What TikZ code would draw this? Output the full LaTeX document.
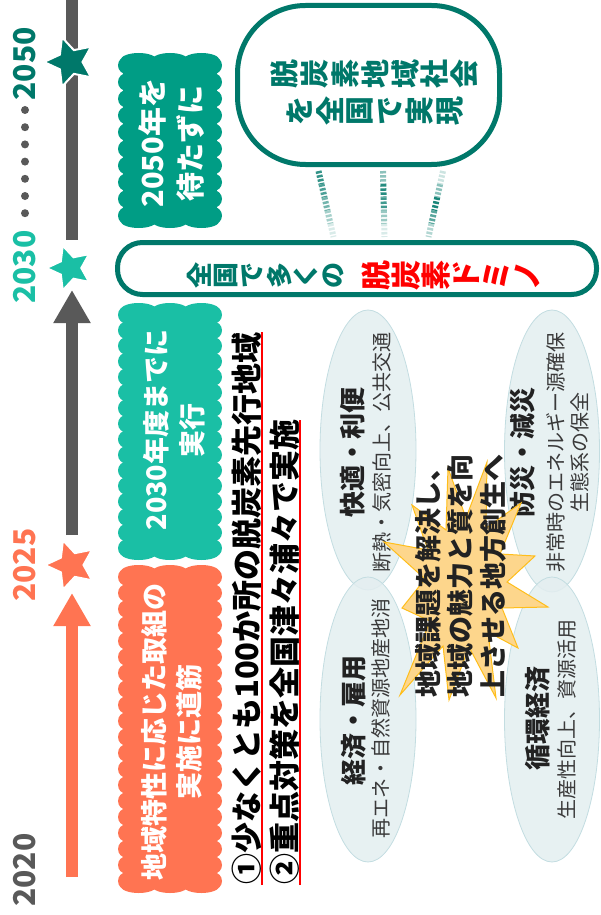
\documentclass[tikz,border=0pt]{standalone}
\usepackage{fontspec}
\setmainfont{Noto Sans CJK JP}
\usetikzlibrary{shapes.geometric, arrows.meta, calc}
\definecolor{dteal}{HTML}{00786A}
\definecolor{bteal}{HTML}{009D85}
\definecolor{lteal}{HTML}{1ABFA5}
\definecolor{orng}{HTML}{FF7452}
\definecolor{barg}{HTML}{595959}
\definecolor{ellf}{HTML}{E3EEF0}
\definecolor{elld}{HTML}{C3DDE1}
\definecolor{burstf}{HTML}{FDD68C}
\definecolor{burstd}{HTML}{FFBE1A}
\definecolor{txtd}{HTML}{222222}
\definecolor{txtg}{HTML}{3A3A3A}
\definecolor{redx}{HTML}{FF0000}
\newcommand\mybanner[5]{%
  \fill[#5] (#1+5,#2+4) rectangle (#3-5,#4-4);
  \pgfmathtruncatemacro\bnv{round((#4-#2-8)/16)}%
  \pgfmathsetmacro\bdv{(#4-#2-8)/\bnv}%
  \foreach \i in {1,...,\bnv}{%
    \fill[#5] (#1+8.9, {#2+4+(\i-0.5)*\bdv}) circle (8.9);
    \fill[#5] (#3-8.9, {#2+4+(\i-0.5)*\bdv}) circle (8.9);
  }%
  \pgfmathtruncatemacro\bnh{round((#3-#1-10)/32)}%
  \pgfmathsetmacro\bdh{(#3-#1-10)/\bnh}%
  \pgfmathsetmacro\brx{\bdh*0.575}%
  \foreach \i in {1,...,\bnh}{%
    \fill[#5] ({#1+5+(\i-0.5)*\bdh}, #2+7) ellipse ({\brx} and 7);
    \fill[#5] ({#1+5+(\i-0.5)*\bdh}, #4-7) ellipse ({\brx} and 7);
  }%
}
\newcommand\mystar[4]{%
  \path[fill=#4, draw=white, line width=2pt] ($(#1)+(180:#2)$)
    \foreach \k in {1,...,9}{ -- ($(#1)+({180+36*\k}:{ifthenelse(isodd(\k),#3,#2)})$) } -- cycle;
}
\begin{document}
\begin{tikzpicture}[x=1pt,y=-1pt,
  ell/.style={ellipse, fill=ellf, draw=elld, line width=0.8pt, fill opacity=0.85, inner sep=0},
  etitle/.style={rotate=90, font=\bfseries\fontsize{26}{30}\selectfont, text=txtd},
  esub/.style={rotate=90, font=\fontsize{20}{24}\selectfont, text=txtg, align=center},
  bannertext/.style={rotate=90, text=white, align=center, font=\bfseries\fontsize{27}{36}\selectfont},
  yearlabel/.style={rotate=90, font=\bfseries\fontsize{30}{30}\selectfont},
  titletext/.style={rotate=90, inner sep=0, font=\bfseries\fontsize{31}{31}\selectfont, text=black},
  tate/.style={rotate=90, inner sep=0},
  conn/.style={line width=6pt, dash pattern=on 2.5pt off 1.6pt},
  burst/.style={fill=burstf, draw=burstd, line width=1pt}
]
\useasboundingbox (0,0) rectangle (601,915);

% ellipses
\node[ell, minimum width=96pt, minimum height=280pt] (e1) at (368,450) {};
\node[ell, minimum width=95pt, minimum height=282pt] (e3) at (552,451) {};
\node[ell, minimum width=96pt, minimum height=285pt] (e2) at (368,719.5) {};
\node[ell, minimum width=95pt, minimum height=285pt] (e4) at (552,719.5) {};

\node[etitle] (e1t) at (353,452) {快適・利便};
\node[esub] (e1s) at (382,452) {断熱・気密向上、公共交通};
\node[etitle] (e2t) at (354,720) {経済・雇用};
\node[esub] (e2s) at (381,718) {再エネ・自然資源地産地消};
\node[etitle] (e3t) at (523,452) {防災・減災};
\node[esub] (e3s) at (568,452) {非常時のエネルギー源確保\\生態系の保全};
\node[etitle] (e4t) at (538,718) {循環経済};
\node[esub] (e4s) at (567,719) {生産性向上、資源活用};

% starburst
\path[burst] (448,468) -- (466,518) -- (487,462) -- (486,528) -- (521,503) -- (500,554) -- (535,556) -- (507,582) -- (548,607) -- (502,608) -- (518,648) -- (488,632) -- (496,698) -- (469,647) -- (449,700) -- (443,646) -- (400,695) -- (430,621) -- (402,608) -- (425,579) -- (384,542) -- (428,550) -- (412,505) -- (446,530) -- cycle;
\node[rotate=90, align=left, font=\bfseries\fontsize{27}{32.5}\selectfont, text=txtd] (bt) at (460.5,576) {地域課題を解決し、\\地域の魅力と質を向\\上させる地方創生へ};

% titles
\node[titletext, anchor=south west] (t1) at (262,885) {①少なくとも100か所の脱炭素先行地域};
\draw[redx, line width=1.5pt] (t1.south west) -- (t1.south east);
\node[titletext, anchor=south west] (t2) at (300,885) {②重点対策を全国津々浦々で実施};
\draw[redx, line width=1.5pt] (t2.south west) -- (t2.south east);

% banners
\mybanner{118}{53}{222}{228}{bteal}
\mybanner{118}{303}{222}{560}{lteal}
\mybanner{118}{565}{222}{893}{orng}
\node[bannertext, font=\bfseries\fontsize{29}{38}\selectfont] (b1t) at (172,143) {2050年を\\待たずに};
\node[bannertext] (b2t) at (174,430) {2030年度までに\\実行};
\node[bannertext, font=\bfseries\fontsize{27}{35}\selectfont] (b3t) at (171.5,732) {地域特性に応じた取組の\\実施に道筋};

% year labels and dots
\node[yearlabel, text=dteal] (y50) at (25,64) {2050};
\node[yearlabel, text=lteal] (y30) at (25,267) {2030};
\node[yearlabel, text=orng] (y25) at (25,565) {2025};
\node[yearlabel, text=barg] (y20) at (25,870) {2020};
\foreach \k in {0,...,6} \fill[barg] (25,{110+17.2*\k}) circle (4);

% timeline
\coordinate (s50) at (70,62);
\coordinate (s30) at (70,268);
\coordinate (s25) at (71,565);
\coordinate (bartop) at (72,0);
\coordinate (barbot) at (72,877);
\draw[line width=12pt, barg] (bartop) -- ($(s30)+(2,-28)$);
\draw[line width=12pt, barg, -{Triangle[length=33pt 0 0, width=35pt 0 0]}] ($(s25)+(1,-30)$) -- ($(s30)+(2,22)$);
\draw[line width=12pt, orng, -{Triangle[length=33pt 0 0, width=35pt 0 0]}] (barbot) -- ($(s25)+(1,28)$);
\mystar{s50}{26}{12.5}{dteal}
\mystar{s30}{23.5}{11.3}{lteal}
\mystar{s25}{26}{12.5}{orng}

% goal box
\node[draw=dteal, line width=5pt, rounded corners=68pt, minimum width=262pt, minimum height=159pt, fill=white] (goal) at (368.5,85) {};
\foreach \c [count=\i] in {脱,炭,素,地,域,社,会}
  \node[tate, text=dteal, font=\bfseries\fontsize{29}{29}\selectfont] (g1\i) at ({255+30*\i},74) {\c};
\foreach \c [count=\i] in {を,全,国,で,実,現}
  \node[tate, text=dteal, font=\bfseries\fontsize{29}{29}\selectfont] (g2\i) at ({270+30*\i},111) {\c};

% domino box
\node[draw=dteal, line width=5pt, rounded corners=25pt, minimum width=479pt, minimum height=52pt] (domino) at (357,268.5) {};
\foreach \c [count=\i] in {全,国,で,多,く,の}
  \node[tate, text=dteal, font=\bfseries\fontsize{26}{26}\selectfont] (da\i) at ({172.2+26.8*\i},275) {\c};
\foreach \c [count=\i] in {脱,炭,素,ド,ミ,ノ}
  \node[tate, text=redx, font=\bfseries\fontsize{30}{30}\selectfont] (db\i) at ({345.8+30.2*\i},275) {\c};

% connectors goal <-> domino
\foreach \a/\b/\n in {-50/-23.5/L, 14.5/27.5/M, 74.5/71.5/R} {
  \coordinate (c\n) at ($(goal.south)+(\a,4)$);
  \coordinate (f\n) at ($(domino.north)+(\b,-3)$);
}
\foreach \n/\ca/\cb/\cc/\cd/\ce in {L/80/70/55/35/15, M/45/85/75/40/15, R/20/45/90/65/30} {
  \draw[conn, dteal!\ca] (c\n) -- ($(c\n)!0.2!(f\n)$);
  \draw[conn, dteal!\cb] ($(c\n)!0.2!(f\n)$) -- ($(c\n)!0.4!(f\n)$);
  \draw[conn, dteal!\cc] ($(c\n)!0.4!(f\n)$) -- ($(c\n)!0.6!(f\n)$);
  \draw[conn, dteal!\cd] ($(c\n)!0.6!(f\n)$) -- ($(c\n)!0.8!(f\n)$);
  \draw[conn, dteal!\ce] ($(c\n)!0.8!(f\n)$) -- (f\n);
}
\end{tikzpicture}
\end{document}
